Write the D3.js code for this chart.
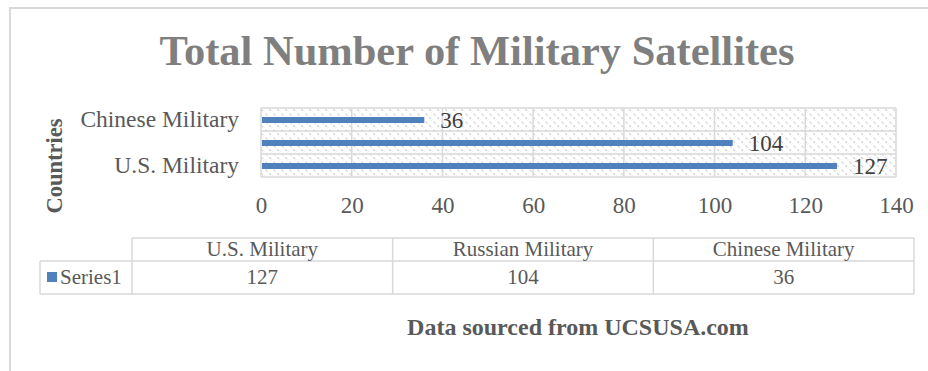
<!DOCTYPE html>
<html>
<head>
<meta charset="utf-8">
<script src="https://cdn.jsdelivr.net/npm/d3@7"></script>
<style>
  html, body { margin: 0; padding: 0; background: #fff; }
  svg { display: block; font-family: "Liberation Serif", "Times New Roman", serif; }
</style>
</head>
<body>
<svg id="chart" width="928" height="371"></svg>
<script>
// Satellite counts by operator
const categories = ["U.S. Military", "Russian Military", "Chinese Military"];
const values = [127, 104, 36];
const seriesName = "Series1";
const xTicks = [0, 20, 40, 60, 80, 100, 120, 140];
const titleText = "Total Number of Military Satellites";
const axisTitle = "Countries";
const sourceText = "Data sourced from UCSUSA.com";

const svg = d3.select("#chart");
const gridColor = "#d9d9d9";
const textColor = "#595959";
const barColor = "#4f81bd";
const serif = "Liberation Serif, Times New Roman, serif";

// Outer chart frame
svg.append("rect")
  .attr("x", 10).attr("y", 8)
  .attr("width", 940).attr("height", 400)
  .attr("fill", "#fff")
  .attr("stroke", gridColor).attr("stroke-width", 2);

// Hatched plot background pattern
const defs = svg.append("defs");
const pat = defs.append("pattern")
  .attr("id", "hatch")
  .attr("patternUnits", "userSpaceOnUse")
  .attr("width", 8).attr("height", 8);
pat.append("rect").attr("width", 8).attr("height", 8).attr("fill", "#fff");
pat.append("path")
  .attr("d", "M-2,-2 L10,10 M-2,6 L2,10 M6,-2 L10,2")
  .attr("stroke", "#d0d0d0").attr("stroke-width", 1.1)
  .attr("stroke-dasharray", "3,2");

// Title
svg.append("text")
  .attr("x", 477).attr("y", 65)
  .attr("text-anchor", "middle")
  .attr("font-size", 42.5).attr("font-weight", "bold")
  .attr("fill", "#7f7f7f")
  .text(titleText);

// Plot area
const plot = { left: 261, right: 896, top: 108, bottom: 177 };

const x = d3.scaleLinear()
  .domain([xTicks[0], xTicks[xTicks.length - 1]])
  .range([plot.left, plot.right]);

const y = d3.scaleBand()
  .domain(categories)
  .range([plot.bottom, plot.top])
  .paddingInner(0).paddingOuter(0);

svg.append("rect")
  .attr("x", plot.left).attr("y", plot.top)
  .attr("width", plot.right - plot.left).attr("height", plot.bottom - plot.top)
  .attr("fill", "url(#hatch)");

// Vertical gridlines
svg.append("g")
  .selectAll("line")
  .data(xTicks)
  .join("line")
  .attr("x1", d => x(d)).attr("x2", d => x(d))
  .attr("y1", plot.top).attr("y2", plot.bottom)
  .attr("stroke", gridColor).attr("stroke-width", 1.5);

// Horizontal band separators
const bandEdges = [plot.top, plot.bottom].concat(categories.slice(1).map(c => y(c) + y.bandwidth()));
svg.append("g")
  .selectAll("line")
  .data(bandEdges)
  .join("line")
  .attr("x1", plot.left).attr("x2", plot.right)
  .attr("y1", d => d).attr("y2", d => d)
  .attr("stroke", gridColor).attr("stroke-width", 1.5);

// Bars
const barH = 6;
svg.append("g")
  .selectAll("rect")
  .data(categories)
  .join("rect")
  .attr("x", x(0) + 1)
  .attr("y", c => y(c) + y.bandwidth() / 2 - barH / 2 + 0.5)
  .attr("width", (c, i) => x(values[i]) - x(0) - 1)
  .attr("height", barH)
  .attr("fill", barColor);

// Data labels
svg.append("g")
  .selectAll("text")
  .data(categories)
  .join("text")
  .attr("x", (c, i) => x(values[i]) + 16)
  .attr("y", c => y(c) + y.bandwidth() / 2 + 8)
  .attr("font-size", 23)
  .attr("fill", "#404040")
  .text((c, i) => values[i]);

// X axis tick labels
const xAxis = d3.axisBottom(x).tickValues(xTicks).tickSize(0).tickPadding(0);
const gx = svg.append("g")
  .attr("transform", `translate(0, ${plot.bottom + 20})`)
  .call(xAxis);
gx.select(".domain").remove();
gx.selectAll("text")
  .attr("font-family", serif)
  .attr("font-size", 23)
  .attr("fill", textColor);

// Y axis category labels (every other one fits)
const yAxis = d3.axisLeft(y)
  .tickValues(categories.filter((c, i) => i % 2 === 0))
  .tickSize(0).tickPadding(0);
const gy = svg.append("g")
  .attr("transform", `translate(${plot.left - 22}, 0)`)
  .call(yAxis);
gy.select(".domain").remove();
gy.selectAll("text")
  .attr("font-family", serif)
  .attr("font-size", 23.5)
  .attr("fill", textColor);

// Axis title
svg.append("text")
  .attr("transform", "translate(62, 166) rotate(-90)")
  .attr("text-anchor", "middle")
  .attr("font-size", 22.5).attr("font-weight", "bold")
  .attr("fill", textColor)
  .text(axisTitle);

// Data table
const table = { left: 132, right: 914, legendLeft: 40, top: 238, mid: 261, bottom: 294 };
const col = d3.scaleBand()
  .domain(categories)
  .range([table.left, table.right]);
const tg = svg.append("g").attr("stroke", gridColor).attr("stroke-width", 1.5);
tg.append("line").attr("x1", table.left).attr("x2", table.right).attr("y1", table.top).attr("y2", table.top);
tg.append("line").attr("x1", table.legendLeft).attr("x2", table.right).attr("y1", table.mid).attr("y2", table.mid);
tg.append("line").attr("x1", table.legendLeft).attr("x2", table.right).attr("y1", table.bottom).attr("y2", table.bottom);
tg.append("line").attr("x1", table.legendLeft).attr("x2", table.legendLeft).attr("y1", table.mid).attr("y2", table.bottom);
tg.selectAll(".v")
  .data(categories.concat(["end"]))
  .join("line")
  .attr("x1", d => d === "end" ? table.right : col(d))
  .attr("x2", d => d === "end" ? table.right : col(d))
  .attr("y1", table.top).attr("y2", table.bottom);

svg.append("g")
  .selectAll("text")
  .data(categories)
  .join("text")
  .attr("x", c => col(c) + col.bandwidth() / 2)
  .attr("y", 256)
  .attr("text-anchor", "middle")
  .attr("font-size", 21)
  .attr("fill", textColor)
  .text(c => c);

svg.append("g")
  .selectAll("text")
  .data(categories)
  .join("text")
  .attr("x", c => col(c) + col.bandwidth() / 2)
  .attr("y", 284)
  .attr("text-anchor", "middle")
  .attr("font-size", 21)
  .attr("fill", textColor)
  .text((c, i) => values[i]);

// Legend key in table
svg.append("rect")
  .attr("x", 47).attr("y", 272)
  .attr("width", 10).attr("height", 10)
  .attr("fill", barColor);
svg.append("text")
  .attr("x", 60).attr("y", 284)
  .attr("font-size", 21)
  .attr("fill", textColor)
  .text(seriesName);

// Source note
svg.append("text")
  .attr("x", 578).attr("y", 335)
  .attr("text-anchor", "middle")
  .attr("font-size", 24).attr("font-weight", "bold")
  .attr("fill", textColor)
  .text(sourceText);
</script>
</body>
</html>
